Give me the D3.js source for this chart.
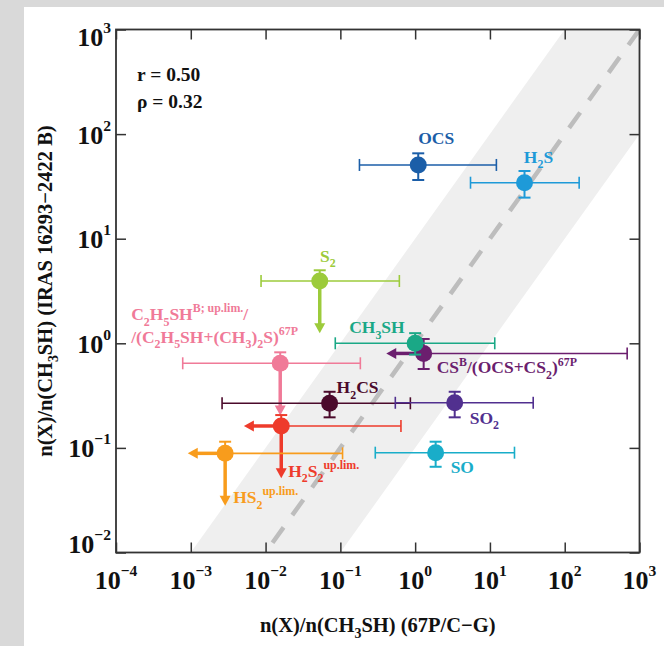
<!DOCTYPE html>
<html>
<head>
<meta charset="utf-8">
<script src="https://cdnjs.cloudflare.com/ajax/libs/d3/7.8.5/d3.min.js"></script>
<style>
  body { margin: 0; background: #d9d9d9; }
</style>
</head>
<body>
<div id="chart"></div>
<script>
//values (ratios to CH3SH)
//null in xLow / yLow means an upper limit -> drawn as an arrow
var species = ["OCS", "H2S", "S2", "CS", "CH3SH", "C2H5SH", "H2CS", "SO2", "H2S2", "HS2", "SO"];
var labels = ["OCS", "H_2S", "S_2", "CS^{B}/(OCS+CS_2)^{67P}", "CH_3SH",
  "C_2H_5SH^{B; up.lim.}/|/(C_2H_5SH+(CH_3)_2S)^{67P}", "H_2CS", "SO_2",
  "H_2S_2^{up.lim.}", "HS_2^{up.lim.}", "SO"];
var colors = ["#1b5ea8", "#1e9ad8", "#9ccb3b", "#6b1e6e", "#1aa886", "#f07a98",
  "#4b0a2b", "#51308f", "#ee3b2b", "#f89c1c", "#19adc9"];

var xVal  = [1.1,  29,   0.053,  1.3,  1.0,    0.0157,  0.0718,  3.38,  0.0162, 0.00288, 1.88];
var xLow  = [0.18, 5.5,  0.0087, null, 0.0855, 0.00078, 0.00262, 0.543, null,   null,    0.293];
var xHigh = [12.2, 156,  0.615,  684,  11.6,   0.185,   0.863,   37.9,  0.646,  0.107,   21.3];

var yVal  = [50.7, 34.3, 3.94,   0.80, 1.0,    0.644,   0.267,   0.27,  0.162,  0.0887,  0.09];
var yLow  = [36.4, 24.7, null,   0.568, 0.78,  null,    0.196,   0.196, null,   null,    0.066];
var yHigh = [65.5, 44.4, 4.99,   1.1,  1.25,   0.82,    0.344,   0.344, 0.206,  0.1146,  0.1146];

var xTicks = [1e-4, 1e-3, 1e-2, 1e-1, 1e0, 1e1, 1e2, 1e3];
var yTicks = [1e-2, 1e-1, 1e0, 1e1, 1e2, 1e3];
var xExp = ["−4", "−3", "−2", "−1", "0", "1", "2", "3"];
var yExp = ["−2", "−1", "0", "1", "2", "3"];

var statR = "0.50";
var statRho = "0.32";

//label placement relative to the marker: [dx, dy, anchor]
var labelPos = [[18, -21, "middle"], [14, -20, "middle"], [8, -19, "middle"],
  [13, 20, "start"], [-66, -10, "start"], [-149, -43, "start"], [7, -10, "start"],
  [15, 21, "start"], [7, 51, "start"], [8, 50, "start"], [15, 20, "start"]];

var W = 664, H = 646;
var plot = {left: 116, top: 29.5, right: 639.5, bottom: 552.5};
var serif = "'Liberation Serif', 'Times New Roman', serif";
var limFactor = Math.pow(10, 0.5); //length of the limit arrows

var svg = d3.select("#chart").append("svg")
  .attr("width", W)
  .attr("height", H);

//page background + white panel
svg.append("rect").attr("width", W).attr("height", H).attr("fill", "#d9d9d9");
svg.append("rect").attr("x", 24).attr("y", 7).attr("width", W - 24).attr("height", H - 7).attr("fill", "#fff");

var x = d3.scaleLog().domain([1e-4, 1e3]).range([plot.left, plot.right]);
var y = d3.scaleLog().domain([1e-2, 1e3]).range([plot.bottom, plot.top]);

svg.append("clipPath").attr("id", "clip")
  .append("rect")
  .attr("x", plot.left).attr("y", plot.top)
  .attr("width", plot.right - plot.left).attr("height", plot.bottom - plot.top);

//1:1 band (+-1 dex) and dashed 1:1 line
var band = [[1e-3, 1e-2], [1e2, 1e3], [1e4, 1e3], [1e-1, 1e-2]];
svg.append("path")
  .attr("clip-path", "url(#clip)")
  .attr("d", d3.line().x(function(d) { return x(d[0]); }).y(function(d) { return y(d[1]); })(band) + "Z")
  .attr("fill", "#efefef");

svg.append("line")
  .attr("clip-path", "url(#clip)")
  .attr("x1", x(1e3)).attr("y1", y(1e3))
  .attr("x2", x(1e-2)).attr("y2", y(1e-2))
  .attr("stroke", "#bdbdbd")
  .attr("stroke-width", 4.5)
  .attr("stroke-dasharray", "19,15");

//rich text: _d subscript, ^{..} superscript, | new line
function richText(text, str, size, supScale, supShift) {
  var lines = str.split("|");
  var x0 = text.attr("x");
  lines.forEach(function(line, li) {
    var re = /_(\d)|\^\{([^}]*)\}|([^_^]+)/g;
    var m, shift = 0, first = true;
    while ((m = re.exec(line)) !== null) {
      var t, mode;
      if (m[1] !== undefined) { t = m[1]; mode = "sub"; }
      else if (m[2] !== undefined) { t = m[2]; mode = "sup"; }
      else { t = m[3]; mode = "normal"; }
      var target = mode == "sub" ? size * 0.3 : (mode == "sup" ? -size * supShift : 0);
      var ts = text.append("tspan")
        .attr("font-size", mode == "normal" ? size : size * supScale)
        .text(t);
      if (first && li > 0) {
        ts.attr("x", x0).attr("dy", size * 1.3 + target - shift);
      } else {
        ts.attr("dy", target - shift);
      }
      shift = target;
      first = false;
    }
  });
}

//points
var idx = d3.range(species.length);
var pts = svg.append("g").selectAll("g")
  .data(idx)
  .enter()
  .append("g")
  .attr("class", function(i) { return "pt " + species[i]; });

pts.each(function(i) {
  var g = d3.select(this);
  var c = colors[i];
  var cx = x(xVal[i]), cy = y(yVal[i]);
  var cap = 6;

  //x error bar
  var xl = xLow[i] === null ? cx : x(xLow[i]);
  var xh = x(xHigh[i]);
  g.append("line").attr("x1", xl).attr("x2", xh).attr("y1", cy).attr("y2", cy)
    .attr("stroke", c).attr("stroke-width", 1.6);
  g.append("line").attr("x1", xh).attr("x2", xh).attr("y1", cy - cap).attr("y2", cy + cap)
    .attr("stroke", c).attr("stroke-width", 1.6);
  if (xLow[i] !== null) {
    g.append("line").attr("x1", xl).attr("x2", xl).attr("y1", cy - cap).attr("y2", cy + cap)
      .attr("stroke", c).attr("stroke-width", 1.6);
  } else {
    var tip = x(xVal[i] / limFactor);
    g.append("line").attr("x1", cx).attr("x2", tip + 9).attr("y1", cy).attr("y2", cy)
      .attr("stroke", c).attr("stroke-width", 3.5);
    g.append("path")
      .attr("d", "M" + tip + "," + cy + "L" + (tip + 10) + "," + (cy - 5.5) + "L" + (tip + 10) + "," + (cy + 5.5) + "Z")
      .attr("fill", c);
  }

  //y error bar
  var yh = y(yHigh[i]);
  var yl = yLow[i] === null ? cy : y(yLow[i]);
  g.append("line").attr("x1", cx).attr("x2", cx).attr("y1", yh).attr("y2", yl)
    .attr("stroke", c).attr("stroke-width", 2);
  g.append("line").attr("x1", cx - cap).attr("x2", cx + cap).attr("y1", yh).attr("y2", yh)
    .attr("stroke", c).attr("stroke-width", 2);
  if (yLow[i] !== null) {
    g.append("line").attr("x1", cx - cap).attr("x2", cx + cap).attr("y1", yl).attr("y2", yl)
      .attr("stroke", c).attr("stroke-width", 2);
  } else {
    var tipY = y(yVal[i] / limFactor);
    g.append("line").attr("x1", cx).attr("x2", cx).attr("y1", cy).attr("y2", tipY - 9)
      .attr("stroke", c).attr("stroke-width", 3.5);
    g.append("path")
      .attr("d", "M" + cx + "," + tipY + "L" + (cx - 5.5) + "," + (tipY - 10) + "L" + (cx + 5.5) + "," + (tipY - 10) + "Z")
      .attr("fill", c);
  }

  g.append("circle").attr("cx", cx).attr("cy", cy).attr("r", 8.5).attr("fill", c);

  var t = g.append("text")
    .attr("x", cx + labelPos[i][0])
    .attr("y", cy + labelPos[i][1])
    .attr("text-anchor", labelPos[i][2])
    .attr("font-family", serif)
    .attr("font-weight", "bold")
    .attr("fill", c);
  richText(t, labels[i], 17.5, 0.68, 0.45);
});

//frame + inward ticks on all sides
var axes = svg.append("g").attr("class", "axes");
function tickAxis(axis, tr) {
  var a = axes.append("g").attr("transform", tr)
    .call(axis.tickSize(-10).tickSizeOuter(0).tickFormat(""));
  a.select(".domain").remove();
  a.selectAll("line").attr("stroke", "#333").attr("stroke-width", 1.5);
}
tickAxis(d3.axisBottom(x).tickValues(xTicks), "translate(0," + plot.bottom + ")");
tickAxis(d3.axisTop(x).tickValues(xTicks), "translate(0," + plot.top + ")");
tickAxis(d3.axisLeft(y).tickValues(yTicks), "translate(" + plot.left + ",0)");
tickAxis(d3.axisRight(y).tickValues(yTicks), "translate(" + plot.right + ",0)");

axes.append("rect")
  .attr("x", plot.left).attr("y", plot.top)
  .attr("width", plot.right - plot.left).attr("height", plot.bottom - plot.top)
  .attr("fill", "none").attr("stroke", "#333").attr("stroke-width", 1.8);

//tick labels
xTicks.forEach(function(v, i) {
  var t = axes.append("text")
    .attr("x", x(v)).attr("y", 589)
    .attr("text-anchor", "middle")
    .attr("font-family", serif).attr("font-weight", "bold").attr("fill", "#111");
  richText(t, "10^{" + xExp[i] + "}", 26, 0.6, 0.5);
});
yTicks.forEach(function(v, i) {
  var by = Math.max(plot.top + 16, Math.min(plot.bottom, y(v) + 9.5));
  var t = axes.append("text")
    .attr("x", 111).attr("y", by)
    .attr("text-anchor", "end")
    .attr("font-family", serif).attr("font-weight", "bold").attr("fill", "#111");
  richText(t, "10^{" + yExp[i] + "}", 26, 0.6, 0.5);
});

//axis titles
var xt = svg.append("text")
  .attr("x", (plot.left + plot.right) / 2).attr("y", 632)
  .attr("text-anchor", "middle")
  .attr("font-family", serif).attr("font-weight", "bold").attr("fill", "#111");
richText(xt, "n(X)/n(CH_3SH) (67P/C−G)", 20.5, 0.68, 0.45);

var yt = svg.append("text")
  .attr("x", 0).attr("y", 0)
  .attr("transform", "translate(52," + ((plot.top + plot.bottom) / 2) + ") rotate(-90)")
  .attr("text-anchor", "middle")
  .attr("font-family", serif).attr("font-weight", "bold").attr("fill", "#111");
richText(yt, "n(X)/n(CH_3SH) (IRAS 16293−2422 B)", 20.5, 0.68, 0.45);

//correlation coefficients
svg.append("text")
  .attr("x", 137).attr("y", 81)
  .attr("font-family", serif).attr("font-weight", "bold").attr("font-size", 19.5).attr("fill", "#111")
  .text("r = " + statR);
svg.append("text")
  .attr("x", 137).attr("y", 108)
  .attr("font-family", serif).attr("font-weight", "bold").attr("font-size", 19.5).attr("fill", "#111")
  .text("ρ = " + statRho);
</script>
</body>
</html>
